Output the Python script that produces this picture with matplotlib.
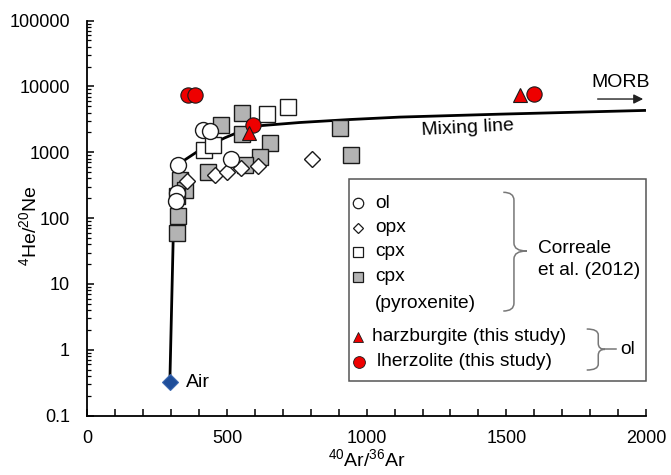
import matplotlib
matplotlib.use('Agg')
import matplotlib.pyplot as plt
from matplotlib.patches import Rectangle, PathPatch
from matplotlib.path import Path
from matplotlib.ticker import FixedLocator, MultipleLocator, LogLocator, NullFormatter, FixedFormatter

plt.rcParams['font.family'] = ['Liberation Sans', 'DejaVu Sans']
plt.rcParams['mathtext.fontset'] = 'custom'
plt.rcParams['mathtext.rm'] = 'Liberation Sans'
plt.rcParams['mathtext.it'] = 'Liberation Sans:italic'

# ---------------- data ----------------
mix_x = [295.5, 308, 324, 350, 392, 445, 493, 540, 582, 618, 761, 940, 1120, 1480, 2000]
mix_y = [0.32, 60, 630, 770, 1010, 1330, 1660, 2010, 2320, 2530, 2830, 3140, 3420, 3790, 4320]

ol_x = [415, 439, 515, 324, 320, 316]
ol_y = [2200, 2070, 800, 630, 240, 185]

opx_x = [356, 457, 499, 550, 612, 806]
opx_y = [370, 455, 510, 570, 620, 800]

cpx_x = [419, 451, 642, 720]
cpx_y = [1090, 1300, 3800, 4800]

pyx_x = [553, 479, 553, 654, 618, 565, 432, 905, 943, 332, 350, 320, 326, 320]
pyx_y = [3900, 2600, 1900, 1380, 860, 645, 510, 2330, 915, 380, 270, 213, 108, 60]

harz_x = [578, 1548]
harz_y = [1950, 7500]

lherz_x = [360, 386, 594, 1600]
lherz_y = [7300, 7500, 2550, 7700]

air_x = [295.5]
air_y = [0.32]

x_ticks = [0, 500, 1000, 1500, 2000]
y_ticks = [0.1, 1, 10, 100, 1000, 10000, 100000]
y_tick_labels = ['0.1', '1', '10', '100', '1000', '10000', '100000']

# ---------------- figure ----------------
fig = plt.figure(figsize=(6.71, 4.75), dpi=100)
ax = fig.add_axes([0.1301, 0.1248, 0.8326, 0.832])
ax.set_yscale('log')
ax.set_xlim(0, 2000)
ax.set_ylim(0.1, 100000)

RED = '#EE0000'
GREY = '#B3B3B3'
EDGE = '#1a1a1a'

ax.plot(mix_x, mix_y, color='black', lw=2.0, zorder=2, solid_capstyle='butt')

ax.plot(pyx_x, pyx_y, 's', ms=12, mfc=GREY, mec=EDGE, mew=1.0, ls='none', zorder=3)
ax.plot(cpx_x, cpx_y, 's', ms=12, mfc='white', mec=EDGE, mew=1.0, ls='none', zorder=4)
ax.plot(opx_x, opx_y, 'D', ms=8, mfc='white', mec=EDGE, mew=1.0, ls='none', zorder=5)
ax.plot(ol_x, ol_y, 'o', ms=11.5, mfc='white', mec=EDGE, mew=1.0, ls='none', zorder=6)
ax.plot(lherz_x, lherz_y, 'o', ms=11, mfc=RED, mec=EDGE, mew=0.8, ls='none', zorder=7)
ax.plot(harz_x, harz_y, '^', ms=10.5, mfc=RED, mec=EDGE, mew=0.8, ls='none', zorder=8)
ax.plot(air_x, air_y, 'D', ms=8, mfc='#1F4E9A', mec='#3A67B0', mew=0.8, ls='none', zorder=8)

# annotations
ax.annotate('Air', xy=(air_x[0], air_y[0]), xytext=(11.5, 0), textcoords='offset points',
            ha='left', va='center', fontsize=14)
ax.text(1363, 2333, 'Mixing line', fontsize=14, ha='center', va='center', rotation=3)
ax.text(1911, 11270, 'MORB', fontsize=14, ha='center', va='center')
ax.annotate('', xy=(1990, 6430), xytext=(1827, 6430),
            arrowprops=dict(arrowstyle='-|>', color='#222222', lw=1.0,
                            mutation_scale=14, shrinkA=0, shrinkB=0))

# axes styling
for s in ['top', 'right']:
    ax.spines[s].set_visible(False)
for s in ['left', 'bottom']:
    ax.spines[s].set_linewidth(1.3)
ax.xaxis.set_major_locator(FixedLocator(x_ticks))
ax.xaxis.set_minor_locator(MultipleLocator(100))
ax.yaxis.set_major_locator(FixedLocator(y_ticks))
ax.yaxis.set_major_formatter(FixedFormatter(y_tick_labels))
ax.yaxis.set_minor_locator(LogLocator(base=10, subs=range(2, 10), numticks=20))
ax.yaxis.set_minor_formatter(NullFormatter())
ax.tick_params(axis='both', which='major', direction='in', length=5, width=1.1, labelsize=13)
ax.tick_params(axis='x', which='minor', direction='in', length=5, width=1.1)
ax.tick_params(axis='y', which='minor', direction='in', length=3, width=0.9)
ax.tick_params(axis='y', which='major', pad=12.5)
ax.tick_params(axis='x', which='major', pad=10)

ax.set_xlabel(r'$^{40}$Ar/$^{36}$Ar', fontsize=14)
ax.set_ylabel(r'$^{4}$He/$^{20}$Ne', fontsize=14)
ax.xaxis.set_label_coords(0.5, -0.082)
ax.yaxis.set_label_coords(-0.085, 0.48)

# ---------------- legend (manual) ----------------
T = ax.transAxes
ax.add_patch(Rectangle((0.469, 0.0878), 1.0 - 0.469, 0.598 - 0.0878, transform=T,
                       fill=True, facecolor='white', edgecolor='#555555', lw=1.1,
                       zorder=9, clip_on=False))
mx = 0.484
tx = 0.515
ly = [0.5374, 0.4757, 0.415, 0.3517, 0.2844, 0.1999, 0.1366]
ax.plot([mx], [ly[0]], 'o', ms=7.5, mfc='white', mec=EDGE, mew=0.9, transform=T, zorder=10, clip_on=False)
ax.plot([mx], [ly[1]], 'D', ms=5.5, mfc='white', mec=EDGE, mew=0.9, transform=T, zorder=10, clip_on=False)
ax.plot([mx], [ly[2]], 's', ms=7.5, mfc='white', mec=EDGE, mew=0.9, transform=T, zorder=10, clip_on=False)
ax.plot([mx], [ly[3]], 's', ms=7.5, mfc=GREY, mec=EDGE, mew=0.9, transform=T, zorder=10, clip_on=False)
ax.plot([mx], [ly[5]], '^', ms=7.5, mfc=RED, mec=EDGE, mew=0.6, transform=T, zorder=10, clip_on=False)
ax.plot([mx + 0.002], [ly[6]], 'o', ms=8.5, mfc=RED, mec=EDGE, mew=0.6, transform=T, zorder=10, clip_on=False)
fs = 13.8
ax.text(tx, ly[0], 'ol', transform=T, fontsize=fs, va='center', ha='left', zorder=10)
ax.text(tx, ly[1], 'opx', transform=T, fontsize=fs, va='center', ha='left', zorder=10)
ax.text(tx, ly[2], 'cpx', transform=T, fontsize=fs, va='center', ha='left', zorder=10)
ax.text(tx, ly[3], 'cpx', transform=T, fontsize=fs, va='center', ha='left', zorder=10)
ax.text(tx, ly[4], '(pyroxenite)', transform=T, fontsize=fs, va='center', ha='left', zorder=10)
ax.text(0.509, ly[5], 'harzburgite (this study)', transform=T, fontsize=fs, va='center', ha='left', zorder=10)
ax.text(0.518, ly[6], 'lherzolite (this study)', transform=T, fontsize=fs, va='center', ha='left', zorder=10)
ax.text(0.8072, 0.4236, 'Correale', transform=T, fontsize=fs, va='center', ha='left', zorder=10)
ax.text(0.8072, 0.3687, 'et al. (2012)', transform=T, fontsize=fs, va='center', ha='left', zorder=10)
ax.text(0.9535, 0.168, 'ol', transform=T, fontsize=fs, va='center', ha='left', zorder=10)


def brace(xl, xs, xt, yt, yb, ym, r, xend=None):
    verts = [(xl, yt), (xs, yt), (xs, yt - r),
             (xs, ym + r),
             (xs, ym), (xt, ym),
             (xs, ym), (xs, ym - r),
             (xs, yb + r),
             (xs, yb), (xl, yb)]
    codes = [Path.MOVETO, Path.CURVE3, Path.CURVE3,
             Path.LINETO,
             Path.CURVE3, Path.CURVE3,
             Path.CURVE3, Path.CURVE3,
             Path.LINETO,
             Path.CURVE3, Path.CURVE3]
    p = PathPatch(Path(verts, codes), transform=T, fill=False, edgecolor='#777777',
                  lw=1.1, zorder=10, clip_on=False)
    ax.add_patch(p)
    if xend is not None:
        ax.plot([xt, xend], [ym, ym], color='#777777', lw=1.1, transform=T, zorder=10, clip_on=False)


brace(0.7446, 0.7637, 0.7865, 0.5653, 0.2649, 0.4168, 0.02)
brace(0.8939, 0.9146, 0.9266, 0.2194, 0.1156, 0.168, 0.015, xend=0.9463)

fig.savefig('out.png', dpi=100)
